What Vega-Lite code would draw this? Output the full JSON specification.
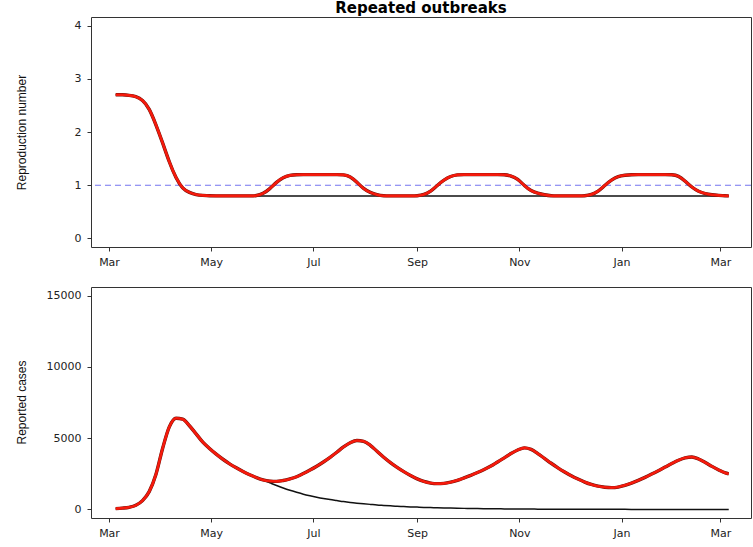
{
  "$schema": "https://vega.github.io/schema/vega-lite/v6.json",
  "background": "white",
  "padding": {"left": 14, "top": 0, "right": 3, "bottom": 5},
  "spacing": 18,
  "config": {
    "view": {"stroke": "#333333", "strokeWidth": 1},
    "axis": {"domain": false, "grid": false, "ticks": true, "tickSize": 4, "tickColor": "#333333", "labelFont": "DejaVu Sans", "labelFontSize": 11, "labelColor": "#222222", "titleFont": "Liberation Sans", "titleFontSize": 12, "titleFontWeight": "normal", "titleColor": "#111111"},
    "axisX": {"labelPadding": 5},
    "axisY": {"labelPadding": 6, "labelAngle": 0}
  },
  "datasets": {
    "d": [
      {"date": "2020-03-05", "r1": 2.70, "r0": 2.70, "c1": 55, "c0": 55},
      {"date": "2020-03-09", "r1": 2.70, "r0": 2.70, "c1": 90, "c0": 90},
      {"date": "2020-03-13", "r1": 2.69, "r0": 2.69, "c1": 150, "c0": 150},
      {"date": "2020-03-17", "r1": 2.67, "r0": 2.67, "c1": 290, "c0": 290},
      {"date": "2020-03-21", "r1": 2.61, "r0": 2.61, "c1": 620, "c0": 620},
      {"date": "2020-03-25", "r1": 2.45, "r0": 2.45, "c1": 1250, "c0": 1250},
      {"date": "2020-03-29", "r1": 2.14, "r0": 2.14, "c1": 2450, "c0": 2450},
      {"date": "2020-04-02", "r1": 1.80, "r0": 1.80, "c1": 4280, "c0": 4280},
      {"date": "2020-04-06", "r1": 1.43, "r0": 1.43, "c1": 5790, "c0": 5790},
      {"date": "2020-04-10", "r1": 1.13, "r0": 1.13, "c1": 6400, "c0": 6400},
      {"date": "2020-04-14", "r1": 0.93, "r0": 0.93, "c1": 6330, "c0": 6330},
      {"date": "2020-04-18", "r1": 0.86, "r0": 0.86, "c1": 5870, "c0": 5870},
      {"date": "2020-04-22", "r1": 0.82, "r0": 0.82, "c1": 5300, "c0": 5300},
      {"date": "2020-04-26", "r1": 0.81, "r0": 0.81, "c1": 4720, "c0": 4720},
      {"date": "2020-04-30", "r1": 0.80, "r0": 0.80, "c1": 4280, "c0": 4280},
      {"date": "2020-05-04", "r1": 0.80, "r0": 0.80, "c1": 3880, "c0": 3880},
      {"date": "2020-05-08", "r1": 0.80, "r0": 0.80, "c1": 3520, "c0": 3520},
      {"date": "2020-05-12", "r1": 0.80, "r0": 0.80, "c1": 3200, "c0": 3200},
      {"date": "2020-05-16", "r1": 0.80, "r0": 0.80, "c1": 2920, "c0": 2920},
      {"date": "2020-05-20", "r1": 0.80, "r0": 0.80, "c1": 2660, "c0": 2660},
      {"date": "2020-05-24", "r1": 0.80, "r0": 0.80, "c1": 2430, "c0": 2430},
      {"date": "2020-05-28", "r1": 0.80, "r0": 0.80, "c1": 2230, "c0": 2230},
      {"date": "2020-06-01", "r1": 0.84, "r0": 0.80, "c1": 2070, "c0": 2060},
      {"date": "2020-06-05", "r1": 0.93, "r0": 0.80, "c1": 1990, "c0": 1870},
      {"date": "2020-06-09", "r1": 1.06, "r0": 0.80, "c1": 1970, "c0": 1680},
      {"date": "2020-06-13", "r1": 1.15, "r0": 0.80, "c1": 2030, "c0": 1500},
      {"date": "2020-06-17", "r1": 1.19, "r0": 0.80, "c1": 2140, "c0": 1340},
      {"date": "2020-06-21", "r1": 1.20, "r0": 0.80, "c1": 2290, "c0": 1200},
      {"date": "2020-06-25", "r1": 1.20, "r0": 0.80, "c1": 2515, "c0": 1070},
      {"date": "2020-06-29", "r1": 1.20, "r0": 0.80, "c1": 2760, "c0": 960},
      {"date": "2020-07-03", "r1": 1.20, "r0": 0.80, "c1": 3030, "c0": 860},
      {"date": "2020-07-07", "r1": 1.20, "r0": 0.80, "c1": 3330, "c0": 770},
      {"date": "2020-07-11", "r1": 1.20, "r0": 0.80, "c1": 3655, "c0": 690},
      {"date": "2020-07-15", "r1": 1.20, "r0": 0.80, "c1": 4010, "c0": 620},
      {"date": "2020-07-19", "r1": 1.20, "r0": 0.80, "c1": 4380, "c0": 550},
      {"date": "2020-07-23", "r1": 1.17, "r0": 0.80, "c1": 4680, "c0": 490},
      {"date": "2020-07-27", "r1": 1.06, "r0": 0.80, "c1": 4840, "c0": 440},
      {"date": "2020-07-31", "r1": 0.93, "r0": 0.80, "c1": 4780, "c0": 395},
      {"date": "2020-08-04", "r1": 0.86, "r0": 0.80, "c1": 4500, "c0": 355},
      {"date": "2020-08-08", "r1": 0.82, "r0": 0.80, "c1": 4080, "c0": 315},
      {"date": "2020-08-12", "r1": 0.80, "r0": 0.80, "c1": 3665, "c0": 285},
      {"date": "2020-08-16", "r1": 0.80, "r0": 0.80, "c1": 3290, "c0": 255},
      {"date": "2020-08-20", "r1": 0.80, "r0": 0.80, "c1": 2955, "c0": 225},
      {"date": "2020-08-24", "r1": 0.80, "r0": 0.80, "c1": 2655, "c0": 205},
      {"date": "2020-08-28", "r1": 0.80, "r0": 0.80, "c1": 2385, "c0": 180},
      {"date": "2020-09-01", "r1": 0.80, "r0": 0.80, "c1": 2145, "c0": 165},
      {"date": "2020-09-05", "r1": 0.82, "r0": 0.80, "c1": 1960, "c0": 145},
      {"date": "2020-09-09", "r1": 0.88, "r0": 0.80, "c1": 1850, "c0": 130},
      {"date": "2020-09-13", "r1": 1.00, "r0": 0.80, "c1": 1810, "c0": 118},
      {"date": "2020-09-17", "r1": 1.10, "r0": 0.80, "c1": 1830, "c0": 105},
      {"date": "2020-09-21", "r1": 1.17, "r0": 0.80, "c1": 1910, "c0": 94},
      {"date": "2020-09-25", "r1": 1.20, "r0": 0.80, "c1": 2040, "c0": 84},
      {"date": "2020-09-29", "r1": 1.20, "r0": 0.80, "c1": 2210, "c0": 75},
      {"date": "2020-10-03", "r1": 1.20, "r0": 0.80, "c1": 2390, "c0": 67},
      {"date": "2020-10-07", "r1": 1.20, "r0": 0.80, "c1": 2590, "c0": 60},
      {"date": "2020-10-11", "r1": 1.20, "r0": 0.80, "c1": 2805, "c0": 54},
      {"date": "2020-10-15", "r1": 1.20, "r0": 0.80, "c1": 3040, "c0": 48},
      {"date": "2020-10-19", "r1": 1.20, "r0": 0.80, "c1": 3330, "c0": 43},
      {"date": "2020-10-23", "r1": 1.20, "r0": 0.80, "c1": 3620, "c0": 38},
      {"date": "2020-10-27", "r1": 1.18, "r0": 0.80, "c1": 3920, "c0": 34},
      {"date": "2020-10-31", "r1": 1.12, "r0": 0.80, "c1": 4170, "c0": 30},
      {"date": "2020-11-04", "r1": 0.99, "r0": 0.80, "c1": 4320, "c0": 27},
      {"date": "2020-11-08", "r1": 0.89, "r0": 0.80, "c1": 4210, "c0": 24},
      {"date": "2020-11-12", "r1": 0.85, "r0": 0.80, "c1": 3920, "c0": 21},
      {"date": "2020-11-16", "r1": 0.82, "r0": 0.80, "c1": 3580, "c0": 19},
      {"date": "2020-11-20", "r1": 0.80, "r0": 0.80, "c1": 3240, "c0": 17},
      {"date": "2020-11-24", "r1": 0.80, "r0": 0.80, "c1": 2920, "c0": 15},
      {"date": "2020-11-28", "r1": 0.80, "r0": 0.80, "c1": 2630, "c0": 14},
      {"date": "2020-12-02", "r1": 0.80, "r0": 0.80, "c1": 2360, "c0": 12},
      {"date": "2020-12-06", "r1": 0.80, "r0": 0.80, "c1": 2130, "c0": 11},
      {"date": "2020-12-10", "r1": 0.80, "r0": 0.80, "c1": 1920, "c0": 10},
      {"date": "2020-12-14", "r1": 0.82, "r0": 0.80, "c1": 1750, "c0": 9},
      {"date": "2020-12-18", "r1": 0.88, "r0": 0.80, "c1": 1630, "c0": 8},
      {"date": "2020-12-22", "r1": 1.00, "r0": 0.80, "c1": 1560, "c0": 7},
      {"date": "2020-12-26", "r1": 1.10, "r0": 0.80, "c1": 1530, "c0": 6},
      {"date": "2020-12-30", "r1": 1.17, "r0": 0.80, "c1": 1570, "c0": 5},
      {"date": "2021-01-03", "r1": 1.19, "r0": 0.80, "c1": 1690, "c0": 5},
      {"date": "2021-01-07", "r1": 1.20, "r0": 0.80, "c1": 1850, "c0": 4},
      {"date": "2021-01-11", "r1": 1.20, "r0": 0.80, "c1": 2040, "c0": 4},
      {"date": "2021-01-15", "r1": 1.20, "r0": 0.80, "c1": 2250, "c0": 3},
      {"date": "2021-01-19", "r1": 1.20, "r0": 0.80, "c1": 2480, "c0": 3},
      {"date": "2021-01-23", "r1": 1.20, "r0": 0.80, "c1": 2720, "c0": 3},
      {"date": "2021-01-27", "r1": 1.20, "r0": 0.80, "c1": 2970, "c0": 2},
      {"date": "2021-01-31", "r1": 1.20, "r0": 0.80, "c1": 3220, "c0": 2},
      {"date": "2021-02-04", "r1": 1.18, "r0": 0.80, "c1": 3450, "c0": 2},
      {"date": "2021-02-08", "r1": 1.08, "r0": 0.80, "c1": 3620, "c0": 2},
      {"date": "2021-02-12", "r1": 0.96, "r0": 0.80, "c1": 3680, "c0": 1},
      {"date": "2021-02-16", "r1": 0.88, "r0": 0.80, "c1": 3540, "c0": 1},
      {"date": "2021-02-20", "r1": 0.84, "r0": 0.80, "c1": 3290, "c0": 1},
      {"date": "2021-02-24", "r1": 0.82, "r0": 0.80, "c1": 3020, "c0": 1},
      {"date": "2021-02-28", "r1": 0.81, "r0": 0.80, "c1": 2770, "c0": 1},
      {"date": "2021-03-04", "r1": 0.80, "r0": 0.80, "c1": 2560, "c0": 1},
      {"date": "2021-03-06", "r1": 0.80, "r0": 0.80, "c1": 2500, "c0": 1}
    ],
    "ref": [{"level": 1}]
  },
  "vconcat": [
    {
      "width": 660,
      "height": 230,
      "title": {"text": "Repeated outbreaks", "font": "DejaVu Sans", "fontSize": 15, "fontWeight": "bold", "color": "#000000", "anchor": "middle", "frame": "group", "offset": 1},
      "data": {"name": "d"},
      "encoding": {
        "x": {"field": "date", "type": "temporal",
          "scale": {"type": "utc", "domain": [{"year": 2020, "month": 2, "date": 19, "hours": 6, "utc": true}, {"year": 2021, "month": 3, "date": 19, "hours": 7, "utc": true}]},
          "axis": {"title": null, "labelExpr": "utcFormat(datum.value, '%b')", "labelFlush": false, "labelOverlap": false,
            "values": [{"year": 2020, "month": 3, "date": 1, "utc": true}, {"year": 2020, "month": 5, "date": 1, "utc": true}, {"year": 2020, "month": 7, "date": 1, "utc": true}, {"year": 2020, "month": 9, "date": 1, "utc": true}, {"year": 2020, "month": 11, "date": 1, "utc": true}, {"year": 2021, "month": 1, "date": 1, "utc": true}, {"year": 2021, "month": 3, "date": 1, "utc": true}]}}
      },
      "layer": [
        {
          "data": {"name": "ref"},
          "mark": {"type": "rule", "color": "#7474f0", "strokeDash": [6, 4], "strokeWidth": 1.2},
          "encoding": {"x": null, "y": {"field": "level", "type": "quantitative", "scale": {"domain": [-0.16, 4.16], "nice": false, "zero": false}, "axis": {"title": "Reproduction number", "values": [0, 1, 2, 3, 4], "labelFlush": false, "titleX": -70, "titleY": 115, "titleAngle": -90, "titleBaseline": "middle", "titleAlign": "center"}}}
        },
        {
          "mark": {"type": "line", "color": "#111111", "strokeWidth": 1.5, "interpolate": "basis"},
          "encoding": {"y": {"field": "r0", "type": "quantitative", "title": "Reproduction number"}}
        },
        {
          "mark": {"type": "line", "color": "#6a1008", "strokeWidth": 3.4, "interpolate": "basis"},
          "encoding": {"y": {"field": "r1", "type": "quantitative", "title": "Reproduction number"}}
        },
        {
          "mark": {"type": "line", "color": "#f51a0c", "strokeWidth": 2.6, "interpolate": "basis"},
          "encoding": {"y": {"field": "r1", "type": "quantitative", "title": "Reproduction number"}}
        }
      ]
    },
    {
      "width": 660,
      "height": 231,
      "data": {"name": "d"},
      "encoding": {
        "x": {"field": "date", "type": "temporal",
          "scale": {"type": "utc", "domain": [{"year": 2020, "month": 2, "date": 19, "hours": 6, "utc": true}, {"year": 2021, "month": 3, "date": 19, "hours": 7, "utc": true}]},
          "axis": {"title": null, "labelExpr": "utcFormat(datum.value, '%b')", "labelFlush": false, "labelOverlap": false,
            "values": [{"year": 2020, "month": 3, "date": 1, "utc": true}, {"year": 2020, "month": 5, "date": 1, "utc": true}, {"year": 2020, "month": 7, "date": 1, "utc": true}, {"year": 2020, "month": 9, "date": 1, "utc": true}, {"year": 2020, "month": 11, "date": 1, "utc": true}, {"year": 2021, "month": 1, "date": 1, "utc": true}, {"year": 2021, "month": 3, "date": 1, "utc": true}]}}
      },
      "layer": [
        {
          "mark": {"type": "line", "color": "#111111", "strokeWidth": 1.5, "interpolate": "monotone"},
          "encoding": {"y": {"field": "c0", "type": "quantitative", "scale": {"domain": [-600, 15600], "nice": false, "zero": false}, "axis": {"title": "Reported cases", "values": [0, 5000, 10000, 15000], "format": "d", "labelFlush": false, "titleX": -70, "titleY": 115, "titleAngle": -90, "titleBaseline": "middle", "titleAlign": "center"}}}
        },
        {
          "mark": {"type": "line", "color": "#6a1008", "strokeWidth": 3.4, "interpolate": "monotone"},
          "encoding": {"y": {"field": "c1", "type": "quantitative", "title": "Reported cases"}}
        },
        {
          "mark": {"type": "line", "color": "#f51a0c", "strokeWidth": 2.6, "interpolate": "monotone"},
          "encoding": {"y": {"field": "c1", "type": "quantitative", "title": "Reported cases"}}
        }
      ]
    }
  ]
}
